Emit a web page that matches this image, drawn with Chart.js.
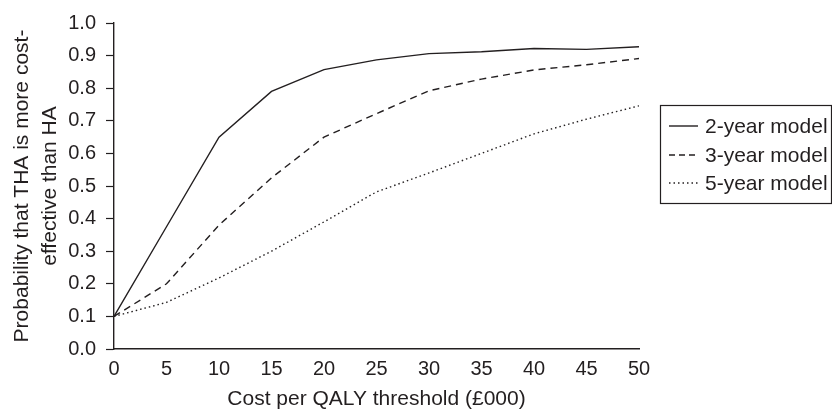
<!DOCTYPE html>
<html>
<head>
<meta charset="utf-8">
<script src="https://cdn.jsdelivr.net/npm/chart.js@4/dist/chart.umd.min.js"></script>
<style>
  html, body { margin: 0; padding: 0; background: #fff; }
  #wrap { width: 832px; height: 412px; position: relative; }
</style>
</head>
<body>
<div id="wrap"><canvas id="ceac"></canvas></div>
<script>
// cost per QALY threshold (£000)
const thresholds = [0, 5, 10, 15, 20, 25, 30, 35, 40, 45, 50];
const twoYear   = [0.10, 0.375, 0.65, 0.79, 0.857, 0.887, 0.906, 0.912, 0.922, 0.919, 0.927];
const threeYear = [0.10, 0.20, 0.38, 0.525, 0.65, 0.722, 0.792, 0.828, 0.856, 0.872, 0.891];
const fiveYear  = [0.10, 0.143, 0.218, 0.30, 0.39, 0.482, 0.54, 0.60, 0.66, 0.705, 0.746];
const seriesLabels = ['2-year model', '3-year model', '5-year model'];

const ink = '#231f20';
const font = "'Liberation Sans', Arial, sans-serif";

function pts(vals) {
  return thresholds.map((x, i) => ({ x, y: vals[i] }));
}

// legend drawn by hand: boxed, to the right of the plot
const boxLegend = {
  id: 'boxLegend',
  afterDraw(chart) {
    const ctx = chart.ctx;
    const left = 660, top = 105, right = 831, bottom = 203;
    ctx.save();
    ctx.strokeStyle = ink;
    ctx.lineWidth = 1.2;
    ctx.strokeRect(left + 0.5, top + 0.5, right - left, bottom - top);
    ctx.font = '21px ' + font;
    ctx.fillStyle = ink;
    ctx.textBaseline = 'middle';
    const rows = [126, 155, 183];
    chart.data.datasets.forEach((ds, i) => {
      const y = rows[i];
      ctx.beginPath();
      ctx.setLineDash(ds.legendDash || []);
      ctx.lineWidth = ds.borderWidth;
      ctx.moveTo(669, y);
      ctx.lineTo(698, y);
      ctx.stroke();
      ctx.setLineDash([]);
      ctx.fillText(ds.label, 705, y + 1);
    });
    ctx.restore();
  }
};

const common = {
  borderColor: ink,
  borderWidth: 1.4,
  pointRadius: 0,
  fill: false,
  tension: 0
};

new Chart(document.getElementById('ceac'), {
  type: 'line',
  data: {
    datasets: [
      { ...common, label: seriesLabels[0], data: pts(twoYear) },
      { ...common, label: seriesLabels[1], data: pts(threeYear), borderDash: [7, 5], legendDash: [6, 4] },
      { ...common, label: seriesLabels[2], data: pts(fiveYear), borderDash: [1.5, 3], legendDash: [1.5, 3] }
    ]
  },
  options: {
    responsive: true,
    maintainAspectRatio: false,
    animation: false,
    layout: { padding: { top: 23, right: 193, left: 0, bottom: 0 } },
    plugins: {
      legend: { display: false },
      tooltip: { enabled: false }
    },
    scales: {
      x: {
        type: 'linear',
        min: 0,
        max: 50,
        afterFit: s => { s.height = 63; },
        border: { display: true, color: ink, width: 1.4 },
        grid: { display: false, drawTicks: false },
        ticks: {
          stepSize: 5,
          color: ink,
          font: { family: font, size: 20 },
          padding: 8,
          maxRotation: 0
        },
        title: {
          display: true,
          text: 'Cost per QALY threshold (£000)',
          color: ink,
          font: { family: font, size: 21 },
          padding: { top: 0, bottom: 0 }
        }
      },
      y: {
        min: 0,
        max: 1,
        afterFit: s => { s.width = 114; },
        border: { display: true, color: ink, width: 1.4 },
        grid: { drawOnChartArea: false, tickLength: 8, color: ink, tickWidth: 1.2 },
        ticks: {
          stepSize: 0.1,
          color: ink,
          padding: 10,
          font: { family: font, size: 20 },
          callback: v => v.toFixed(1)
        },
        title: {
          display: true,
          text: ['Probability that THA is more cost-', 'effective than HA'],
          color: ink,
          font: { family: font, size: 21, lineHeight: 1.35 },
          padding: { top: 8, bottom: 0 }
        }
      }
    }
  },
  plugins: [boxLegend]
});
</script>
</body>
</html>
